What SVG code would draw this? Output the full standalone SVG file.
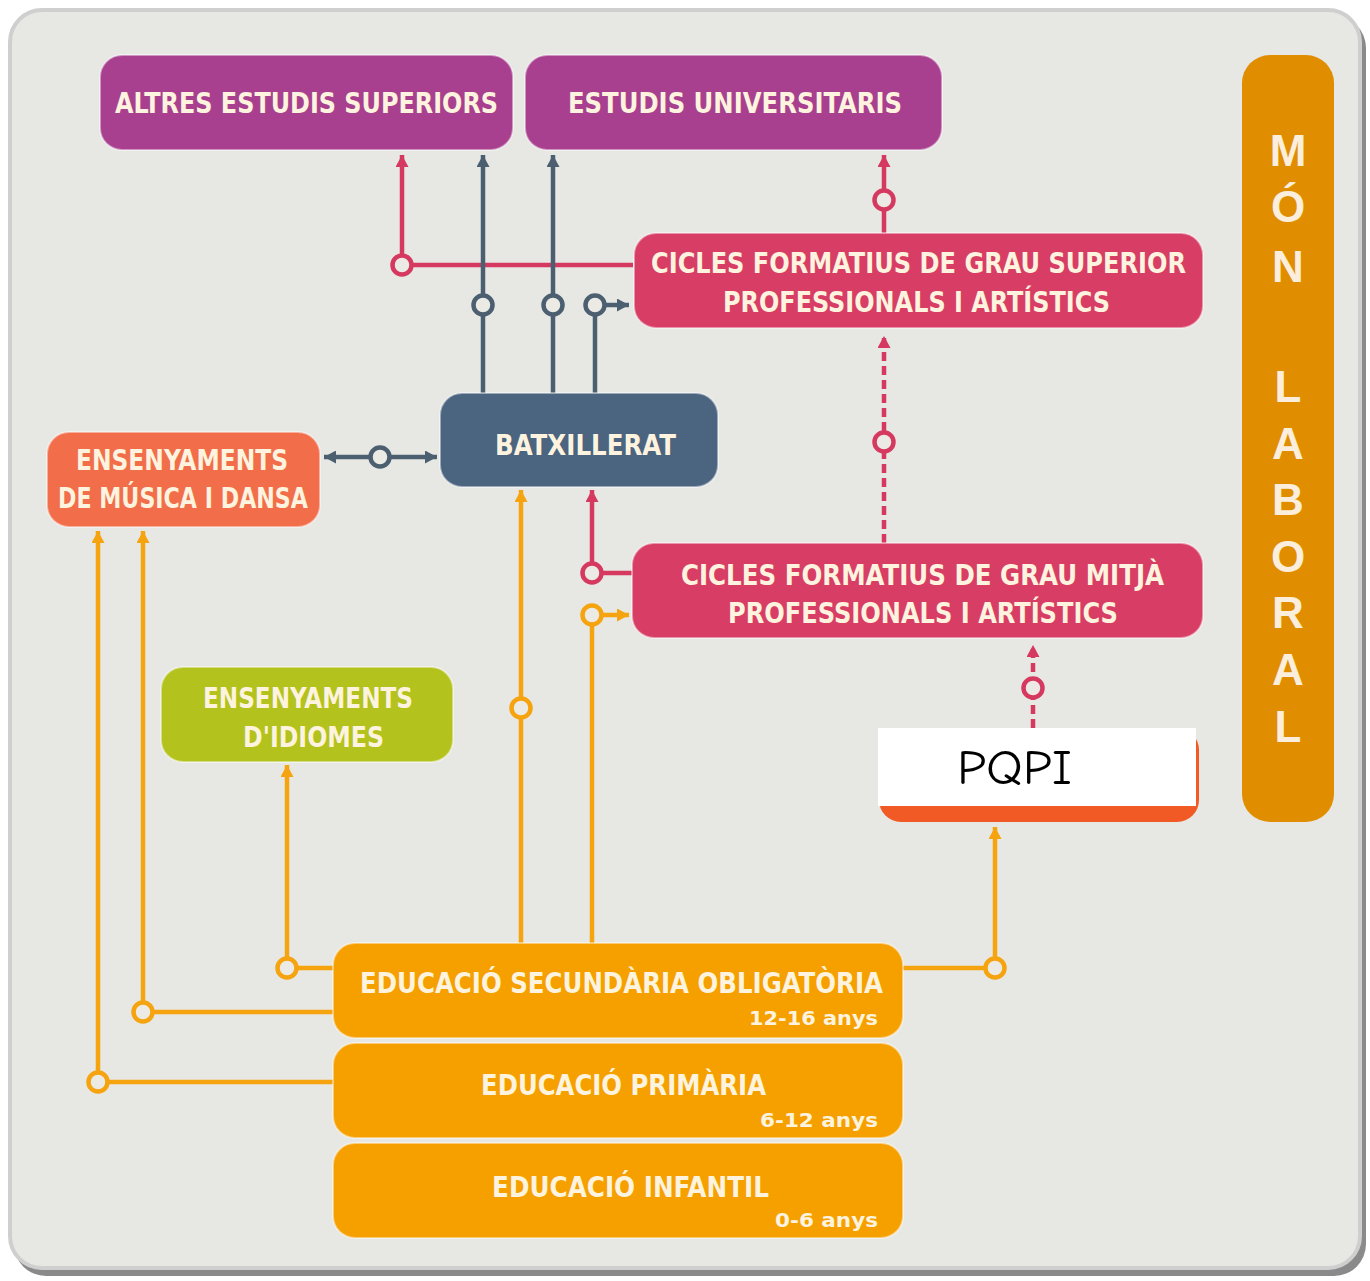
<svg xmlns="http://www.w3.org/2000/svg" width="1370" height="1281" viewBox="0 0 1370 1281">
<style>
.lbl{font-family:"Liberation Sans Narrow","DejaVu Sans Condensed","Liberation Sans",Arial,sans-serif;font-weight:bold;fill:#fdf3de;font-size:28px}
.age{font-size:20px}
.vert{font-family:"Liberation Sans","DejaVu Sans",Arial,sans-serif;font-weight:bold;fill:#fbeedc;font-size:44px;text-anchor:middle}
.box{stroke:#ffffff;stroke-opacity:0.45;stroke-width:2}
.ln{fill:none;stroke-width:4.5}
.r{stroke:#d6395f}
.s{stroke:#4b5f70}
.o{stroke:#f5a30f}
.dash{stroke-dasharray:9 5}
.dot{fill:#eceae4;stroke-width:4.5}
</style>
<defs>
<marker id="aR" markerUnits="userSpaceOnUse" markerWidth="14" markerHeight="13" refX="12" refY="6.5" orient="auto-start-reverse"><path d="M0,0 L12,6.5 L0,13 z" fill="#d6395f"/></marker>
<marker id="aS" markerUnits="userSpaceOnUse" markerWidth="14" markerHeight="13" refX="12" refY="6.5" orient="auto-start-reverse"><path d="M0,0 L12,6.5 L0,13 z" fill="#4b5f70"/></marker>
<marker id="aO" markerUnits="userSpaceOnUse" markerWidth="14" markerHeight="13" refX="12" refY="6.5" orient="auto-start-reverse"><path d="M0,0 L12,6.5 L0,13 z" fill="#f5a30f"/></marker>
</defs>
<rect width="1370" height="1281" fill="#ffffff"/>
<rect x="14" y="16" width="1352" height="1260" rx="32" fill="#8a8a8a"/>
<rect x="10" y="10" width="1350" height="1258" rx="32" fill="#e7e7e3" stroke="#cfcfcf" stroke-width="4"/>

<g id="connectors">
<path class="ln r" d="M633,265 H402 V155" marker-end="url(#aR)"/>
<path class="ln r" d="M884,233 V155" marker-end="url(#aR)"/>
<path class="ln r dash" d="M884,543 V336" marker-end="url(#aR)"/>
<path class="ln r" d="M632,573 H592 V490" marker-end="url(#aR)"/>
<path class="ln r dash" d="M1033,728 V645" marker-end="url(#aR)"/>
<path class="ln s" d="M483,393 V155" marker-end="url(#aS)"/>
<path class="ln s" d="M553,393 V155" marker-end="url(#aS)"/>
<path class="ln s" d="M595,393 V305 H629" marker-end="url(#aS)"/>
<path class="ln s" d="M324,457 H437" marker-start="url(#aS)" marker-end="url(#aS)"/>
<path class="ln o" d="M521,943 V490" marker-end="url(#aO)"/>
<path class="ln o" d="M592,943 V615 H629" marker-end="url(#aO)"/>
<path class="ln o" d="M333,968 H287 V765" marker-end="url(#aO)"/>
<path class="ln o" d="M333,1012 H143 V531" marker-end="url(#aO)"/>
<path class="ln o" d="M333,1082 H98 V531" marker-end="url(#aO)"/>
<path class="ln o" d="M903,968 H995 V827" marker-end="url(#aO)"/>
<circle class="dot r" cx="402" cy="265" r="9.5"/>
<circle class="dot r" cx="884" cy="200" r="9.5"/>
<circle class="dot r" cx="884" cy="442" r="9.5"/>
<circle class="dot r" cx="592" cy="573" r="9.5"/>
<circle class="dot r" cx="1033" cy="688" r="9.5"/>
<circle class="dot s" cx="483" cy="305" r="9.5"/>
<circle class="dot s" cx="553" cy="305" r="9.5"/>
<circle class="dot s" cx="595" cy="305" r="9.5"/>
<circle class="dot s" cx="380" cy="457" r="9.5"/>
<circle class="dot o" cx="521" cy="708" r="9.5"/>
<circle class="dot o" cx="592" cy="615" r="9.5"/>
<circle class="dot o" cx="287" cy="968" r="9.5"/>
<circle class="dot o" cx="143" cy="1012" r="9.5"/>
<circle class="dot o" cx="98" cy="1082" r="9.5"/>
<circle class="dot o" cx="995" cy="968" r="9.5"/>
</g>

<g id="altres">
<rect class="box" x="100" y="55" width="413" height="95" rx="22" fill="#a8408f"/>
<text class="lbl" x="115" y="113" textLength="383" lengthAdjust="spacingAndGlyphs">ALTRES ESTUDIS SUPERIORS</text>
</g>
<g id="universitaris">
<rect class="box" x="525" y="55" width="417" height="95" rx="22" fill="#a8408f"/>
<text class="lbl" x="568" y="113" textLength="334" lengthAdjust="spacingAndGlyphs">ESTUDIS UNIVERSITARIS</text>
</g>
<g id="mon-laboral">
<rect x="1242" y="55" width="92" height="767" rx="28" fill="#e08d00"/>
<text class="vert" x="1288" y="166">M</text>
<text class="vert" x="1288" y="222">Ó</text>
<text class="vert" x="1288" y="282">N</text>
<text class="vert" x="1288" y="402">L</text>
<text class="vert" x="1288" y="459">A</text>
<text class="vert" x="1288" y="515">B</text>
<text class="vert" x="1288" y="572">O</text>
<text class="vert" x="1288" y="628">R</text>
<text class="vert" x="1288" y="685">A</text>
<text class="vert" x="1288" y="742">L</text>
</g>
<g id="cfgs">
<rect class="box" x="634" y="233" width="569" height="95" rx="22" fill="#d83d65"/>
<text class="lbl" x="651" y="273" textLength="535" lengthAdjust="spacingAndGlyphs">CICLES FORMATIUS DE GRAU SUPERIOR</text>
<text class="lbl" x="723" y="312" textLength="387" lengthAdjust="spacingAndGlyphs">PROFESSIONALS I ARTÍSTICS</text>
</g>
<g id="batxillerat">
<rect class="box" x="440" y="393" width="278" height="94" rx="22" fill="#4b6480"/>
<text class="lbl" x="495" y="455" textLength="181" lengthAdjust="spacingAndGlyphs">BATXILLERAT</text>
</g>
<g id="musica">
<rect class="box" x="47" y="432" width="273" height="95" rx="22" fill="#f26d4a"/>
<text class="lbl" x="76" y="470" textLength="212" lengthAdjust="spacingAndGlyphs">ENSENYAMENTS</text>
<text class="lbl" x="58" y="508" textLength="250" lengthAdjust="spacingAndGlyphs">DE MÚSICA I DANSA</text>
</g>
<g id="cfgm">
<rect class="box" x="632" y="543" width="571" height="95" rx="22" fill="#d83d65"/>
<text class="lbl" x="681" y="585" textLength="483" lengthAdjust="spacingAndGlyphs">CICLES FORMATIUS DE GRAU MITJÀ</text>
<text class="lbl" x="728" y="623" textLength="390" lengthAdjust="spacingAndGlyphs">PROFESSIONALS I ARTÍSTICS</text>
</g>
<g id="idiomes">
<rect class="box" x="161" y="667" width="292" height="95" rx="22" fill="#b3c21c"/>
<text class="lbl" x="203" y="708" textLength="210" lengthAdjust="spacingAndGlyphs">ENSENYAMENTS</text>
<text class="lbl" x="243" y="747" textLength="141" lengthAdjust="spacingAndGlyphs">D'IDIOMES</text>
</g>
<g id="pqpi">
<rect x="879" y="728" width="320" height="94" rx="22" fill="#f15a24"/>
<rect x="878" y="728" width="318" height="78" fill="#ffffff"/>
<text x="957" y="784" font-family="'Comic Neue','DejaVu Sans','Liberation Sans',sans-serif" font-size="48" fill="#000000" textLength="115" lengthAdjust="spacingAndGlyphs">PQPI</text>
</g>
<g id="eso">
<rect class="box" x="333" y="943" width="570" height="95" rx="22" fill="#f6a000"/>
<text class="lbl" x="360" y="993" textLength="523" lengthAdjust="spacingAndGlyphs">EDUCACIÓ SECUNDÀRIA OBLIGATÒRIA</text>
<text class="lbl age" x="749" y="1025" textLength="129" lengthAdjust="spacingAndGlyphs">12-16 anys</text>
</g>
<g id="primaria">
<rect class="box" x="333" y="1043" width="570" height="95" rx="22" fill="#f6a000"/>
<text class="lbl" x="481" y="1095" textLength="285" lengthAdjust="spacingAndGlyphs">EDUCACIÓ PRIMÀRIA</text>
<text class="lbl age" x="760" y="1127" textLength="118" lengthAdjust="spacingAndGlyphs">6-12 anys</text>
</g>
<g id="infantil">
<rect class="box" x="333" y="1143" width="570" height="95" rx="22" fill="#f6a000"/>
<text class="lbl" x="492" y="1197" textLength="277" lengthAdjust="spacingAndGlyphs">EDUCACIÓ INFANTIL</text>
<text class="lbl age" x="775" y="1227" textLength="103" lengthAdjust="spacingAndGlyphs">0-6 anys</text>
</g>
</svg>
